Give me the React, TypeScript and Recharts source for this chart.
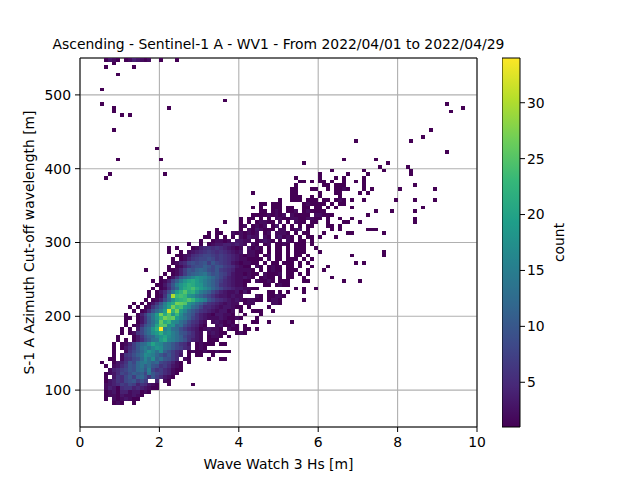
import React from 'react';
import { Bar, CartesianGrid, ComposedChart, Label, ReferenceLine, Scatter, ScatterChart, XAxis, YAxis } from 'recharts';

const title = 'Ascending - Sentinel-1 A - WV1 - From 2022/04/01 to 2022/04/29';
const xTicks = [0, 2, 4, 6, 8, 10];
const yTicks = [100, 200, 300, 400, 500];
const countTicks = [5, 10, 15, 20, 25, 30];
const viridis = ['#440154', '#482878', '#3e4989', '#31688e', '#26828e', '#1f9e89', '#35b779', '#6ece58', '#b5de2b', '#fde725'];

const binWidthHs = 0.1;
const binHeightM = 5;
const firstRow = 6;

// one entry per 5 m row starting at 80 m, "bin:counts" with counts in base 36
const rowCounts = [
  '8:121 13:1',
  '6:1 8:2123211',
  '6:1221322321',
  '6:123144233121',
  '6:24315664543211',
  '6:23457687465321 22:1 28:1',
  '6:1346589a797 19:4 21:2 22:1',
  '6:1.3658a7bc96a75321',
  '6:1235879bab8ea875421',
  '7:24578a9cdaf86754211',
  '6:1 8:2357a9cebda9675321',
  '5:1 8:1346a8cefdbc876421 27:1',
  '7:11.25689cgdhbda975.21 32:1 35:11',
  '8:1.2679bdhgfca8a753.1 29:1 30:1 33:1',
  '8:1..268acfigdhb9754.1 28:21 30:1211211 37:1',
  '8:1.1357adfdgihdca8754.1 30:21',
  '8:1.1247acdgkhgdca8653.1 30:2111 35:11',
  '9:1.1.1358adejlgfdb964 29:32.111',
  '9:1...1369bcgikhfdb86532 32:1221 37:1',
  '10:1.1268bdhjmhifda97532 32:2321 36:1 39:12 41:1',
  '10:1.1.38bdimyfhdc975431 31:232 34:21 37:211 41:11 44:1',
  '11:1.1259bekpphicd97542 31:1 34:231 37:121 41:1',
  '11:1..136adhqlnhgdb86532 33:232121 43:11 47:1 53:1',
  '11:11.136aeinrpqjgeb86432 33:2 34:2321 38:12 40:1 44:1',
  '11:1..147bejrlpinhdb96432 33:133221 41:1 45:1',
  '13:1.1259cfjwmrjgca86543 34:23312 40:1 43:111 48:1',
  '12:1.1.1269cgkrnojhdb85543 35:23321 40:1 42:1 47:1',
  '13:1.1.136afjlrqpigdb86543 36:2322 41:122 48:221',
  '16:1.1248chlmnpnjhfa86543 38:232 41:122 44:11 47:1 48:221 56:1',
  '17:1.126dunoniheca8643 36:32322 44:21 47:1 48:122 51:1',
  '17:1.1359ejmplmifdb86432 38:2313 42:1 47:11 50:1 52:1 56:1',
  '18:1.1259cilmoljhfca8654 39:3 40:32211 54:1 56:1 59:1',
  '19:1136afikmljifdb96543 39:2 40:21 46:11 49:12 51:11',
  '18:1.1248bfikljhfdb97543 39:2 40:211 44:21121 50:111 56:11 66:1 70:1',
  '20:1.136acegihgeca86432 40:2 41:321.12 47:11.1.11 53:1 56:1 63:1',
  '21:1.1247abcdeb9a87532 40:212 43:11.21 48:112.1 52:11 55:1.1',
  '16:1 22:11247a9bcb98a76542 40:2 41:221.1.12 49:11.11 54:1 57:1 61:1',
  '22:1.1246899ba8a976532 41:11.21.121 50:1.11 55:1 58:1 62:1',
  '23:12458989a7a876532 40:1 41:2211.1.11.1 52:11.1 57:1 69:1 71:1',
  '23:1.12467889867654322 42:11 44:11.2.11.1 53:11 56:1 58:1',
  '24:11235678876765432 41:1221 46:12.11.1 54:11 57:1 68:1 76:1',
  '22:1 25:1.2345676565432 40:3.2211 47:1.11.1.1 55:11 60:1 76:1',
  '22:1 24:1...124565654321 40:2 42:3121 47:1.11.1.11 56:1 59:1',
  '27:1..1.1233443432.21 46:12.1121.11 55:11 58:1',
  '30:1..12212.3322.12321.1.21 55:11.1',
  '31:11.1.1.1.21322.21.23121.1.11 60:1 64:1',
  '32:1 34:11 38:2121212.12.2221.1 56:11 61:1 67:11 76:1',
  '34:1 40:1.2132111.22.123 57:1 63:1 65:1 72:111',
  '40:12.1212.13.1.1 55:1 57:11 62:11 65:1',
  '36:1 40:1 42:1 44:12211.2.1.21 56:1 58:11 62:1 66:11 70:1 84:1',
  '40:1 42:11 45:1.1.2 50:2112211221 60:1 62:1 65:1 68:1 84:1',
  '43:11 45:11212 50:12 53:21111.2 60:2111 72:1',
  '45:11 48:121 52:112 56:1211 60:11 74:1 78:1 84:1',
  '43:1 45:1 48:111 52:11 56:11 59:11 62:1 64:1 68:1 86:1',
  '45:11 48:111 56:1211 60:11 63:1 65:11',
  '50:1 53:111 57:111 61:11 64:121 68:1 71:1 79:1 84:1 89:1',
  '53:111 58:1 60:1 65:1',
  '43:1 53:11 60:1 64:11 70:1 72:1',
  '53:11 58:11 62:1 64:1121 71:1 73:1 80:1 89:1',
  '54:1 61:11 64:111 71:1 84:1',
  '55:11 58:1 60:11 63:1 66:1 69:1 71:1',
  '6:1 54:1 60:1 64:1 66:1 71:1',
  '7:1 21:1 60:1 67:1 72:1 83:1',
  '63:1 71:1 76:1 83:1',
  '75:1 82:1',
  '56:1 77:1',
  '9:1 20:1 66:1 74:1',
  '',
  '92:1',
  '19:1',
  '',
  '69:1 83:1',
  '86:1',
  '',
  '8:1 88:1',
  '',
  '',
  '',
  '10:1 12:1',
  '8:1 93:1',
  '8:1 22:1 96:1',
  '5:1 92:1',
  '36:1',
  '',
  '',
  '5:1',
  '',
  '',
  '',
  '9:1',
  '',
  '6:1 13:1',
  '8:1',
  '6:1 7:321 11:1243212 20:1 24:1',
];

function viridisColor(count: number) {
  const t = ((count - 1) / 33) * (viridis.length - 1);
  const i = Math.min(Math.floor(t), viridis.length - 2);
  const f = t - i;
  const a = viridis[i];
  const b = viridis[i + 1];
  const mix = (k: number) => {
    const p = parseInt(a.slice(k, k + 2), 16);
    const q = parseInt(b.slice(k, k + 2), 16);
    return Math.round(p + (q - p) * f).toString(16).padStart(2, '0');
  };
  return `#${mix(1)}${mix(3)}${mix(5)}`;
}

const cells = rowCounts.flatMap((row, r) =>
  row.split(' ').filter(Boolean).flatMap((segment) => {
    const [start, counts] = segment.split(':');
    return counts.split('').flatMap((c, k) =>
      c === '.'
        ? []
        : [{
            x: (Number(start) + k + 0.5) * binWidthHs,
            y: 50 + (firstRow + r + 0.5) * binHeightM,
            count: parseInt(c, 36),
          }],
    );
  }),
);

const font = 'DejaVu Sans';
const tickStyle = { fontFamily: font, fontSize: 13.9, fill: '#000' };
const labelStyle = { fontFamily: font, fontSize: 13.9, fill: '#000' };

function BinCell(props: any) {
  const { cx, cy, payload } = props;
  return (
    <rect
      x={cx - 2}
      y={cy - 1.85}
      width={4}
      height={3.7}
      fill={viridisColor(payload.count)}
      shapeRendering="crispEdges"
    />
  );
}

export default function App() {
  return (
    <div style={{ position: 'absolute', left: 0, top: 0, width: 640, height: 480, background: '#fff' }}>
      <div
        style={{
          position: 'absolute',
          left: 0,
          width: 557,
          top: 36,
          textAlign: 'center',
          fontFamily: font,
          fontSize: 13.9,
          lineHeight: '16px',
          color: '#000',
          whiteSpace: 'nowrap',
        }}
      >
        {title}
      </div>
      <div style={{ position: 'absolute', left: 0, top: 0 }}>
        <ScatterChart width={640} height={480} margin={{ top: 58, right: 163, bottom: 23, left: 20 }}>
          <Scatter data={cells} dataKey="y" shape={BinCell} isAnimationActive={false} />
          <CartesianGrid stroke="#b0b0b0" strokeWidth={1.1} />
          <XAxis
            type="number"
            dataKey="x"
            domain={[0, 10]}
            ticks={xTicks}
            interval={0}
            height={30}
            tick={tickStyle}
            tickSize={5}
            tickMargin={5}
            stroke="#000"
          >
            <Label value="Wave Watch 3 Hs [m]" position="bottom" offset={2} style={labelStyle} />
          </XAxis>
          <YAxis
            type="number"
            dataKey="y"
            domain={[50, 550]}
            ticks={yTicks}
            interval={0}
            width={60}
            tick={tickStyle}
            tickSize={5}
            tickMargin={4}
            stroke="#000"
          >
            <Label value="S-1 A Azimuth Cut-off wavelength [m]" angle={-90} position="insideLeft" offset={9} style={{ ...labelStyle, textAnchor: 'middle' }} />
          </YAxis>
          <ReferenceLine x={10} stroke="#000" />
          <ReferenceLine y={550} stroke="#000" />
        </ScatterChart>
      </div>
      <div style={{ position: 'absolute', left: 502, top: 0 }}>
        <ComposedChart
          width={100}
          height={480}
          data={[{ name: 'count', range: [1, 34] }]}
          margin={{ top: 58, right: 0, bottom: 53, left: 0 }}
          barCategoryGap={0}
        >
          <defs>
            <linearGradient id="viridisBar" x1="0" y1="1" x2="0" y2="0">
              {viridis.map((c, i) => (
                <stop key={c} offset={i / (viridis.length - 1)} stopColor={c} />
              ))}
            </linearGradient>
          </defs>
          <XAxis dataKey="name" hide />
          <YAxis
            orientation="right"
            type="number"
            domain={[1, 34]}
            ticks={countTicks}
            interval={0}
            width={82}
            tick={tickStyle}
            tickSize={5}
            axisLine={false}
            stroke="#000"
          >
            <Label value="count" angle={-90} position="insideRight" offset={43} style={{ ...labelStyle, textAnchor: 'middle' }} />
          </YAxis>
          <Bar dataKey="range" fill="url(#viridisBar)" stroke="#000" isAnimationActive={false} />
        </ComposedChart>
      </div>
    </div>
  );
}
